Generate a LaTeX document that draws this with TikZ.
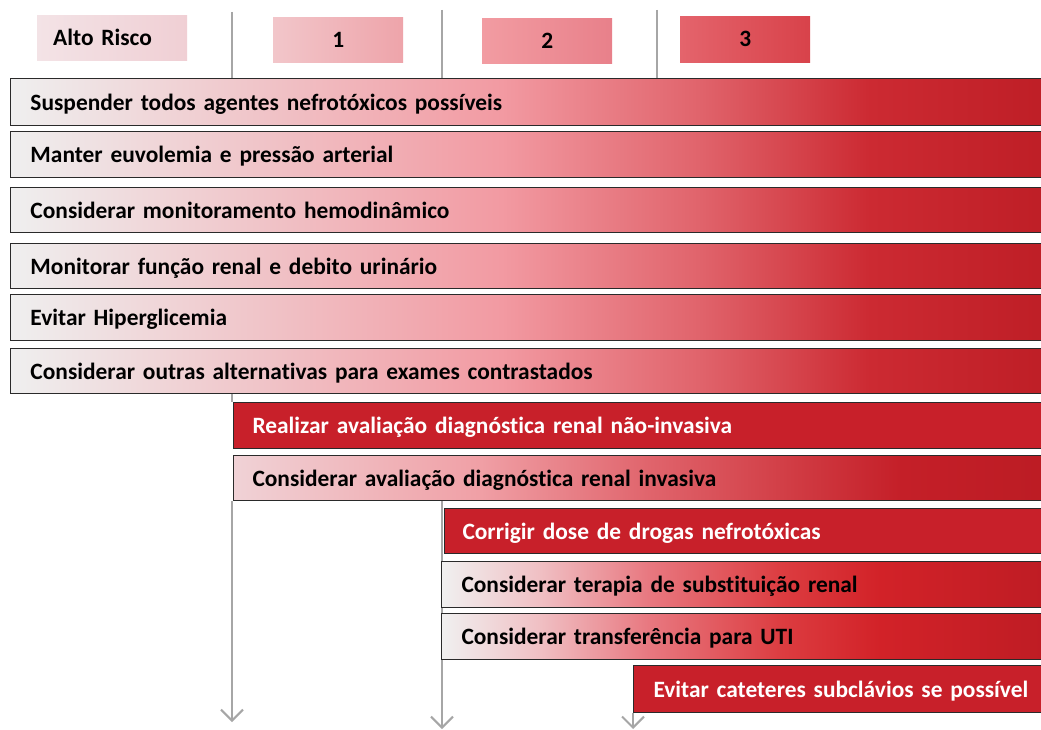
\documentclass[tikz,border=0pt]{standalone}
\usepackage{fontspec}
\setmainfont[Ligatures=NoCommon]{Carlito}
\usetikzlibrary{arrows.meta}
\definecolor{cA0}{HTML}{EFEFEF}
\definecolor{cA1}{HTML}{F0C6CA}
\definecolor{cA2}{HTML}{F29AA2}
\definecolor{cA3}{HTML}{E0636B}
\definecolor{cA4}{HTML}{CC2A32}
\definecolor{cA5}{HTML}{BE1E26}
\definecolor{cB0}{HTML}{F0D2D6}
\definecolor{cB1}{HTML}{F0A0A6}
\definecolor{cB2}{HTML}{E0646C}
\definecolor{cB3}{HTML}{D03A42}
\definecolor{cB4}{HTML}{C41F28}
\definecolor{cB5}{HTML}{BC1C24}
\definecolor{cC0}{HTML}{F0F0F0}
\definecolor{cC1}{HTML}{F0C0C4}
\definecolor{cC2}{HTML}{E87880}
\definecolor{cC3}{HTML}{DC3C40}
\definecolor{cC4}{HTML}{D22228}
\definecolor{cC5}{HTML}{BE1C24}
\definecolor{hA0}{HTML}{F3E3E6}
\definecolor{hA1}{HTML}{F0CFD4}
\definecolor{h10}{HTML}{F2C6CA}
\definecolor{h11}{HTML}{EEA4AA}
\definecolor{h20}{HTML}{F29CA2}
\definecolor{h21}{HTML}{E8808A}
\definecolor{h30}{HTML}{E4646C}
\definecolor{h31}{HTML}{D8424A}
\definecolor{redbar}{HTML}{C8202A}
\definecolor{guide}{HTML}{A6A6A6}
\definecolor{bord}{HTML}{2A2A2A}
\pgfdeclarehorizontalshading{mainshade}{100bp}{color(0bp)=(cA0); color(25bp)=(cA0); color(36.5bp)=(cA1); color(48.6bp)=(cA2); color(58.2bp)=(cA3); color(66.3bp)=(cA4); color(75bp)=(cA5); color(100bp)=(cA5)}
\pgfdeclarehorizontalshading{midshade}{100bp}{color(0bp)=(cB0); color(25bp)=(cB0); color(40bp)=(cB1); color(50.5bp)=(cB2); color(59.7bp)=(cB3); color(66bp)=(cB4); color(75bp)=(cB5); color(100bp)=(cB5)}
\pgfdeclarehorizontalshading{lateshade}{100bp}{color(0bp)=(cC0); color(25bp)=(cC0); color(33bp)=(cC1); color(42bp)=(cC2); color(53bp)=(cC3); color(61bp)=(cC4); color(75bp)=(cC5); color(100bp)=(cC5)}
\begin{document}
\begin{tikzpicture}[x=1pt,y=-1pt,
  font=\fontsize{23.4}{27}\selectfont\bfseries,
  barbase/.style={draw=bord, line width=1pt, anchor=north west, inner xsep=20pt, inner ysep=0pt, align=left, text depth=0pt},
  graybar/.style={barbase, shade, shading=mainshade, text=black},
  midbar/.style={barbase, shade, shading=midshade, text=black},
  latebar/.style={barbase, shade, shading=lateshade, text=black},
  redbox/.style={barbase, fill=redbar, text=white},
  hdr/.style={anchor=north west, inner sep=0pt, minimum width=130pt, minimum height=45pt},
  guideline/.style={draw=guide, line width=2pt},
  guidearrow/.style={guideline, -{Straight Barb[length=11pt,width=22pt,line width=2pt]}}
]
\useasboundingbox (0,0) rectangle (1041,730);
\fill[white] (0,0) rectangle (1041,730);

% header
\node[hdr, minimum width=150pt, left color=hA0, right color=hA1, text width=118pt, inner xsep=16pt, align=left] (hA) at (37,15) {Alto Risco};
\node[hdr, left color=h10, right color=h11] (h1) at (273,17) {1};
\node[hdr, left color=h20, right color=h21] (h2) at (482,18) {2};
\node[hdr, minimum height=46pt, left color=h30, right color=h31] (h3) at (680,16) {3};

% bars
\node[graybar, minimum height=47pt, text width=1000pt] (b1) at (10,78) {Suspender todos agentes nefrotóxicos possíveis};
\node[graybar, minimum height=46pt, text width=1000pt] (b2) at (10,131) {Manter euvolemia e pressão arterial};
\node[graybar, minimum height=45pt, text width=1000pt] (b3) at (10,187) {Considerar monitoramento hemodinâmico};
\node[graybar, minimum height=45pt, text width=1000pt] (b4) at (10,243) {Monitorar função renal e debito urinário};
\node[graybar, minimum height=46pt, text width=1000pt] (b5) at (10,294) {Evitar Hiperglicemia};
\node[graybar, minimum height=45pt, text width=1000pt] (b6) at (10,348) {Considerar outras alternativas para exames contrastados};

\node[redbox, minimum height=46pt, text width=777pt, inner xsep=19pt] (b7) at (233,402) {Realizar avaliação diagnóstica renal não-invasiva};
\node[midbar, minimum height=45pt, text width=777pt, inner xsep=19pt] (b8) at (233,455) {Considerar avaliação diagnóstica renal invasiva};

\node[redbox, minimum height=45pt, text width=570pt, inner xsep=18pt] (b9) at (444,508) {Corrigir dose de drogas nefrotóxicas};
\node[latebar, minimum height=46pt, text width=569pt] (b10) at (441,561) {Considerar terapia de substituição renal};
\node[latebar, minimum height=46pt, text width=569pt] (b11) at (441,613) {Considerar transferência para UTI};

\node[redbox, minimum height=47pt, text width=377pt] (b12) at (633,665) {Evitar cateteres subclávios se possível};

% guide lines
\coordinate (g1top) at (232,12);
\coordinate (g1end) at (232,722);
\coordinate (g2top) at (442,10);
\coordinate (g2end) at (442,729);
\coordinate (g3top) at (657,10);
\coordinate (g4end) at (633,729);
\draw[guideline] (g1top) -- (g1top |- b1.north);
\draw[guideline] (g2top) -- (g2top |- b1.north);
\draw[guideline] (g3top) -- (g3top |- b1.north);
\draw[guideline] (g1top |- b6.south) -- (g1top |- b7.north);
\draw[guidearrow] (g1top |- b8.south) -- (g1end);
\draw[guideline] (g2top |- b8.south) -- (g2top |- b10.north);
\draw[guideline] (g2top |- b10.south) -- (g2top |- b11.north);
\draw[guidearrow] (g2top |- b11.south) -- (g2end);
\draw[guidearrow] (b12.south west) -- (g4end);
\end{tikzpicture}
\end{document}
